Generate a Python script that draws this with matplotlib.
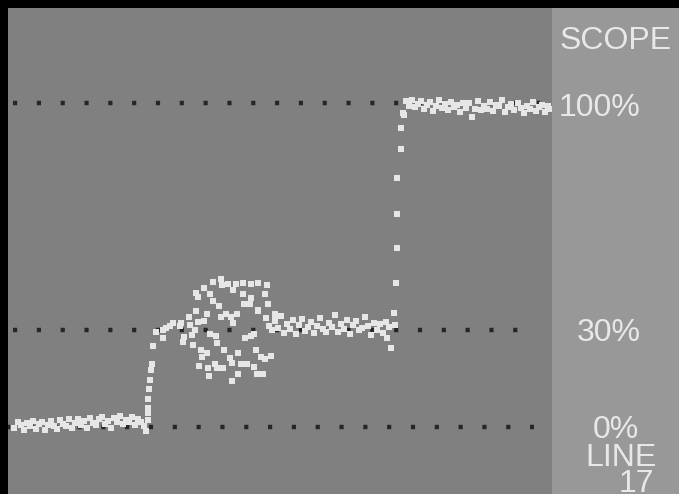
import matplotlib
matplotlib.use("Agg")
import matplotlib.pyplot as plt
from matplotlib.patches import Rectangle

plt.rcParams['lines.scale_dashes'] = False

# trace of the scope, (time, percent)
baseline = [(6, -0.3), (10, 1.5), (13, 0.6), (16, -0.8), (19, 1.2), (22, 0.4), (25, 1.9),
            (28, -0.5), (31, 0.9), (34, 1.6), (37, -0.9), (40, 0.7), (43, 1.8), (46, 0.2),
            (49, -0.6), (52, 2.1), (55, 1.0), (58, 0.3), (61, 2.4), (64, -0.4), (67, 1.3),
            (70, 2.6), (73, 0.5), (76, 1.7), (79, -0.2), (82, 2.9), (85, 1.1), (88, 0.6),
            (91, 2.3), (94, 3.2), (97, 0.8), (100, 1.9), (103, -0.3), (106, 2.7), (109, 1.4),
            (112, 3.4), (115, 0.9), (118, 2.2), (121, 1.5), (124, 3.0), (127, 0.7), (130, 2.5),
            (133, 1.6), (136, 0.4), (138, -1.2)]

rise_30 = [(139.5, 2.2), (139.5, 4.3), (140, 5.9), (140, 8.6), (141, 11.7), (141.5, 14.5),
           (142.5, 17.6), (143.5, 19.4), (144.5, 25.0)]

overshoot = [(204.7, 44.7), (212.7, 45.6), (213.7, 43.8), (219.7, 44.1), (228, 44.0),
             (235.3, 44.5), (242.7, 44.0), (250.3, 44.5), (258.7, 43.7), (196, 43.0),
             (187.7, 41.3), (190.3, 40.0), (202, 41.0), (204.7, 39.0), (225.3, 42.3),
             (235.3, 41.0), (242.7, 39.9), (257.3, 41.0), (211.3, 37.3), (236.3, 37.9),
             (242, 37.9), (260.3, 37.9), (188, 35.8), (199.3, 34.8), (212.7, 33.8),
             (217.7, 34.8), (222.7, 34.0), (228.7, 34.8), (249.7, 35.9), (267.3, 34.8),
             (181.3, 34.0), (190.3, 32.5), (196, 32.6), (225.3, 32.2), (182, 31.5),
             (187, 29.9), (172.7, 32.0), (164.7, 32.0), (172, 31.0), (158, 30.5),
             (162, 31.0), (155.3, 29.9), (148, 29.4), (154.7, 27.6), (176, 27.9),
             (183.7, 28.5), (202, 28.6), (208, 28.1), (237, 27.4), (242.7, 28.1),
             (246, 28.7), (209.3, 25.8), (174.7, 26.3), (185.3, 25.3), (192.7, 23.8),
             (216, 23.6), (193.7, 21.7), (199.3, 22.7), (222, 21.2), (230.3, 22.7),
             (247.7, 23.6), (253, 21.5), (257, 20.9), (262.7, 22.0), (191.3, 18.8),
             (200.3, 18.3), (207, 19.4), (209.3, 18.1), (214.7, 18.3), (223.7, 19.7),
             (233, 19.4), (238.7, 19.4), (246, 18.4), (201.3, 15.7), (230.3, 16.3),
             (248.7, 16.3), (255.3, 16.3), (223.7, 14.3)]

flat_30 = [(258, 33.5), (261, 31.2), (264, 29.8), (267, 32.6), (270, 30.4), (273, 34.1),
           (276, 29.1), (279, 31.8), (282, 30.2), (285, 32.9), (288, 28.6), (291, 31.5),
           (294, 33.2), (297, 29.7), (300, 30.9), (303, 32.4), (306, 28.9), (309, 31.1),
           (312, 33.6), (315, 30.3), (318, 29.4), (321, 32.2), (324, 30.8), (327, 34.4),
           (330, 29.2), (333, 31.7), (336, 30.1), (339, 33.0), (342, 28.7), (345, 31.4),
           (348, 32.8), (351, 29.9), (354, 30.6), (357, 33.9), (360, 31.3), (363, 28.4),
           (366, 32.1), (369, 30.0), (372, 31.9), (375, 29.0), (378, 32.5), (381, 30.7),
           (260, 38.0), (267, 34.6), (250, 36.0)]

rise_100 = [(379, 27.5), (382.7, 24.4), (386.7, 31.4), (385.7, 35.2), (387.7, 44.4),
            (388.7, 55.2), (389.3, 65.7), (389.3, 76.9), (392.7, 85.8), (392.7, 92.4),
            (394.7, 96.8)]

flat_100 = [(398, 100.5), (401, 99.2), (404, 101.0), (407, 98.6), (410, 99.8), (413, 100.7),
            (416, 98.1), (419, 99.5), (422, 100.2), (425, 97.6), (428, 99.0), (431, 100.9),
            (434, 98.4), (437, 99.6), (440, 97.9), (443, 100.3), (446, 98.8), (449, 99.3),
            (452, 97.2), (455, 100.1), (458, 98.5), (461, 99.9), (464, 95.6), (467, 98.2),
            (470, 100.6), (473, 97.7), (476, 99.1), (479, 98.0), (482, 100.4), (485, 97.4),
            (488, 99.4), (491, 98.9), (494, 100.8), (497, 97.1), (500, 98.6), (503, 99.7),
            (506, 97.8), (510, 100.0), (513, 98.3), (516, 96.9), (519, 99.2), (522, 98.1),
            (525, 100.2), (528, 97.5), (531, 98.7), (534, 99.5), (537, 97.3), (540, 98.9),
            (542, 98.0), (396, 96.3)]

grid_levels = [100, 30, 0]
grid_start = [5, 5, -2]
grid_end = [532, 510, 526]

labels = ['SCOPE', '100%', '30%', '0%', 'LINE', '17']
label_x = [560, 559, 577, 593, 585, 619]
label_base = [49, 116, 341, 438, 466, 492]

W, H = 679, 494
fig = plt.figure(figsize=(W / 100, H / 100), dpi=100, facecolor='black')

# light side panel on the right
fig.add_artist(Rectangle((552 / W, 0), (W - 552) / W, 486 / H,
                         transform=fig.transFigure, color='#989898', lw=0))

ax = fig.add_axes([8 / W, 0, 544 / W, 486 / H])
ax.set_facecolor('#808080')
ax.set_xlim(0, 544)
ax.set_ylim(-20.7, 129.3)
ax.set_xticks([])
ax.set_yticks([])
for s in ax.spines.values():
    s.set_visible(False)

for lvl, a, b in zip(grid_levels, grid_start, grid_end):
    ax.plot([a, b], [lvl, lvl], color='#262626', lw=3.2,
            linestyle=(0, (3.0, 14.15)), dash_capstyle='butt')

for seg in [baseline, rise_30, overshoot, flat_30, rise_100, flat_100]:
    t = [p[0] for p in seg]
    v = [p[1] for p in seg]
    ax.plot(t, v, 's', ms=4.0, mew=0, color='#e6e6e6')

for txt, x, y in zip(labels, label_x, label_base):
    fig.text(x / W, 1 - y / H, txt, fontsize=23, family='Liberation Sans',
             color='#e8e8e8', ha='left', va='baseline')

fig.savefig('out.png', dpi=100, facecolor='black')
